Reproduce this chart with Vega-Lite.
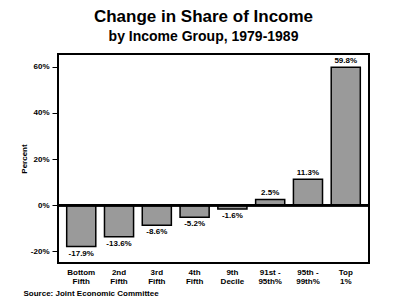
{
  "$schema": "https://vega.github.io/schema/vega-lite/v6.json",
  "width": 311,
  "height": 209,
  "autosize": "none",
  "padding": {"left": 58, "top": 54, "right": 31, "bottom": 45},
  "background": "white",
  "config": {
    "font": "Liberation Sans",
    "view": {"stroke": "black", "strokeWidth": 2}
  },
  "title": {
    "text": "Change in Share of Income",
    "subtitle": "by Income Group, 1979-1989",
    "fontSize": 17,
    "fontWeight": "bold",
    "subtitleFontSize": 14,
    "subtitleFontWeight": "bold",
    "subtitleColor": "black",
    "color": "black",
    "subtitlePadding": 4,
    "anchor": "middle",
    "dx": -10,
    "offset": 9
  },
  "data": {
    "values": [
      {"group": "Bottom|Fifth", "change": -17.9},
      {"group": "2nd|Fifth", "change": -13.6},
      {"group": "3rd|Fifth", "change": -8.6},
      {"group": "4th|Fifth", "change": -5.2},
      {"group": "9th|Decile", "change": -1.6},
      {"group": "91st -|95th%", "change": 2.5},
      {"group": "95th -|99th%", "change": 11.3},
      {"group": "Top|1%", "change": 59.8}
    ]
  },
  "transform": [{"calculate": "format(datum.change, '.1f') + '%'", "as": "label"},
                {"calculate": "replace(datum.label, '\u2212', '-')", "as": "label"}],
  "encoding": {
    "x": {
      "field": "group",
      "type": "nominal",
      "sort": null,
      "scale": {"paddingInner": 0.23, "paddingOuter": 0.23},
      "axis": {
        "title": "Source: Joint Economic Committee",
        "titleFontSize": 8,
        "titleFontWeight": "bold",
        "titleColor": "black",
        "titleAnchor": "start",
        "titleAlign": "left",
        "titleBaseline": "alphabetic",
        "titleX": -35,
        "titleY": 32,
        "labelExpr": "split(datum.label, '|')",
        "labelAngle": 0,
        "labelFontSize": 8,
        "labelFontWeight": "bold",
        "labelColor": "black",
        "labelLineHeight": 9,
        "labelPadding": 5,
        "ticks": false,
        "domain": false
      }
    }
  },
  "layer": [
    {
      "mark": {"type": "bar", "color": "#9a9a9a", "stroke": "black", "strokeWidth": 1.5},
      "encoding": {
        "y": {
          "field": "change",
          "type": "quantitative",
          "scale": {"domain": [-25, 65.5], "nice": false},
          "axis": {
            "title": "Percent",
            "titleFontSize": 8,
            "titleFontWeight": "bold",
            "titleColor": "black",
            "titlePadding": 2,
            "values": [-20, -10, 0, 10, 20, 30, 40, 50, 60],
            "labelExpr": "datum.value % 20 === 0 ? datum.value + '%' : ''",
            "labelFontSize": 8,
            "labelFontWeight": "bold",
            "labelColor": "black",
            "labelPadding": 3,
            "tickColor": "black",
            "tickSize": {"condition": {"test": "datum.value % 20 === 0", "value": 6}, "value": 3},
            "domain": false,
            "grid": false
          }
        }
      }
    },
    {
      "mark": {"type": "rule", "color": "black", "strokeWidth": 2},
      "encoding": {"y": {"datum": 0, "type": "quantitative"}, "x": {"value": 0}, "x2": {"value": 311}}
    },
    {
      "transform": [{"filter": "datum.change >= 0"}],
      "mark": {"type": "text", "baseline": "bottom", "dy": -2, "fontSize": 8, "fontWeight": "bold", "color": "black"},
      "encoding": {
        "y": {"field": "change", "type": "quantitative"},
        "text": {"field": "label", "type": "nominal"}
      }
    },
    {
      "transform": [{"filter": "datum.change < 0"}],
      "mark": {"type": "text", "baseline": "top", "dy": 3, "fontSize": 8, "fontWeight": "bold", "color": "black"},
      "encoding": {
        "y": {"field": "change", "type": "quantitative"},
        "text": {"field": "label", "type": "nominal"}
      }
    }
  ]
}
